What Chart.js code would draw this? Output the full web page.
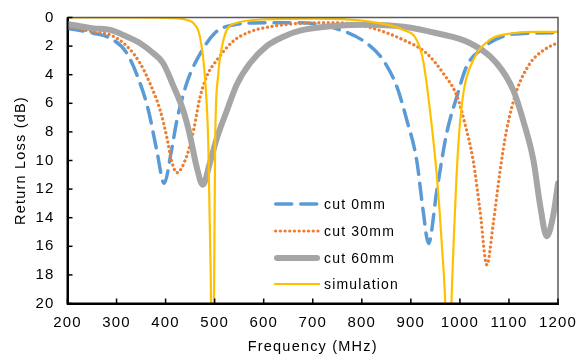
<!DOCTYPE html>
<html><head><meta charset="utf-8">
<script src="https://cdn.jsdelivr.net/npm/chart.js@4.4.1/dist/chart.umd.min.js"></script>
<style>html,body{margin:0;padding:0;background:#fff;overflow:hidden}canvas{display:block}</style>
</head><body>
<canvas id="c" width="579" height="356"></canvas>
<script>
// ---- data ----
const seriesLabels = ['cut 0mm', 'cut 30mm', 'cut 60mm', 'simulation'];

const freqCut0 = [200, 253, 287, 321, 348, 365, 382, 397, 412, 423, 443, 463, 500, 538, 606, 674, 756, 810, 844, 871, 892, 912, 925, 936, 953, 973, 994, 1014, 1041, 1089, 1143, 1200];
const lossCut0 = [0.75, 1.1, 1.45, 2.5, 4.6, 6.5, 9.3, 11.6, 9.3, 7.2, 4.6, 3.0, 1.1, 0.52, 0.36, 0.36, 0.87, 1.8, 3.0, 4.8, 7.2, 10.0, 13.5, 15.8, 12.1, 8.1, 5.5, 3.4, 2.3, 1.3, 1.1, 1.06];

const freqCut30 = [200, 253, 287, 321, 348, 368, 389, 402, 412, 423, 443, 457, 470, 484, 504, 538, 572, 606, 674, 742, 810, 885, 932, 966, 994, 1010, 1027, 1041, 1055, 1068, 1082, 1095, 1116, 1143, 1170, 1200];
const lossCut30 = [0.64, 1.0, 1.22, 2.0, 3.2, 4.6, 6.5, 8.3, 10.0, 10.85, 9.7, 7.9, 5.6, 4.1, 3.0, 1.65, 1.0, 0.69, 0.41, 0.36, 0.64, 1.57, 2.5, 3.9, 5.5, 7.4, 10.0, 13.5, 17.3, 14.4, 10.7, 7.9, 5.1, 3.2, 2.3, 1.75];

const freqCut60 = [200, 253, 287, 321, 348, 375, 395, 416, 436, 450, 463, 476, 490, 504, 525, 545, 572, 606, 640, 674, 742, 810, 885, 953, 1021, 1075, 1109, 1129, 1150, 1163, 1177, 1190, 1200];
const lossCut60 = [0.45, 0.76, 0.87, 1.34, 1.8, 2.5, 3.2, 4.8, 6.5, 8.3, 10.4, 11.7, 10.2, 8.5, 6.5, 4.7, 3.2, 2.0, 1.34, 0.92, 0.6, 0.5, 0.64, 1.1, 1.8, 3.2, 5.1, 7.2, 10.0, 13.0, 15.3, 13.9, 11.6];

const freqSim = [200, 300, 400, 430, 443, 457, 470, 480, 487, 492, 496, 501, 507, 518, 538, 606, 700, 760, 817, 885, 912, 925, 939, 953, 963, 972, 976, 981, 990, 997, 1007, 1027, 1061, 1109, 1157, 1200];
const lossSim = [0, 0, 0.02, 0.08, 0.17, 0.4, 1.34, 4.1, 8.8, 18, 30, 8.8, 4.1, 1.57, 0.45, 0.13, 0.08, 0.12, 0.29, 0.87, 1.57, 3.0, 6.5, 11.1, 15.8, 22, 30, 22, 13.5, 8.8, 5.3, 3.0, 1.57, 1.1, 1.0, 1.0];

const xTicks = [200, 300, 400, 500, 600, 700, 800, 900, 1000, 1100, 1200];
const yTicks = [0, 2, 4, 6, 8, 10, 12, 14, 16, 18, 20];
const xTitle = 'Frequency (MHz)';
const yTitle = 'Return Loss (dB)';

// ---- chart ----
const FONT = "'Liberation Sans', Arial, sans-serif";
const pts = (f, v) => f.map((x, i) => ({x: x, y: v[i]}));

const styles = [
  {borderColor: '#5B9BD5', borderWidth: 3.5, borderDash: [16, 9], borderCapStyle: 'round', order: 4},
  {borderColor: '#ED7D31', borderWidth: 3.2, borderDash: [0.1, 4.6], borderCapStyle: 'round', order: 3},
  {borderColor: '#A5A5A5', borderWidth: 6, borderDash: [], borderCapStyle: 'round', order: 2},
  {borderColor: '#FFC000', borderWidth: 2.2, borderDash: [], borderCapStyle: 'butt', order: 1}
];
const seriesData = [pts(freqCut0, lossCut0), pts(freqCut30, lossCut30), pts(freqCut60, lossCut60), pts(freqSim, lossSim)];

const datasets = seriesLabels.map((lab, i) => Object.assign({
  label: lab, data: seriesData[i], fill: false, pointRadius: 0, pointHoverRadius: 0,
  cubicInterpolationMode: 'monotone', clip: 0
}, styles[i]));

const spacing = {
  id: 'spacing',
  beforeDraw(chart) { chart.ctx.letterSpacing = '1.2px'; }
};

const frame = {
  id: 'frame',
  afterDatasetsDraw(chart) {
    const {ctx, chartArea: a, scales: {x, y}} = chart;
    ctx.save();
    ctx.strokeStyle = '#595959'; ctx.lineWidth = 1.5;
    ctx.beginPath(); ctx.moveTo(a.left, a.top); ctx.lineTo(a.right, a.top); ctx.lineTo(a.right, a.bottom); ctx.stroke();
    ctx.strokeStyle = '#000'; ctx.lineWidth = 2;
    ctx.beginPath(); ctx.moveTo(a.left, a.top); ctx.lineTo(a.left, a.bottom); ctx.lineTo(a.right, a.bottom); ctx.stroke();
    ctx.lineWidth = 1.5;
    xTicks.forEach(v => { const px = x.getPixelForValue(v); ctx.beginPath(); ctx.moveTo(px, a.bottom); ctx.lineTo(px, a.bottom - 5); ctx.stroke(); });
    yTicks.forEach(v => { const py = y.getPixelForValue(v); ctx.beginPath(); ctx.moveTo(a.left, py); ctx.lineTo(a.left + 5, py); ctx.stroke(); });
    ctx.restore();
  }
};

const legendInside = {
  id: 'legendInside',
  afterDraw(chart) {
    const ctx = chart.ctx;
    const x0 = 274, x1 = 320, tx = 324;
    const rows = [204, 231, 258, 284];
    ctx.save();
    ctx.letterSpacing = '1.2px';
    chart.data.datasets.forEach((ds, i) => {
      const yy = rows[i];
      ctx.beginPath();
      ctx.strokeStyle = ds.borderColor; ctx.lineWidth = ds.borderWidth;
      ctx.setLineDash(ds.borderDash); ctx.lineCap = ds.borderCapStyle;
      const pad = ds.borderCapStyle === 'round' ? ds.borderWidth / 2 : 0;
      ctx.moveTo(x0 + pad, yy); ctx.lineTo(x1 - pad, yy); ctx.stroke();
      ctx.setLineDash([]);
      ctx.fillStyle = '#000'; ctx.font = '14px ' + FONT; ctx.textBaseline = 'middle'; ctx.textAlign = 'left';
      ctx.fillText(ds.label, tx, yy + 1);
    });
    ctx.restore();
  }
};

function zeroPad(s) { s.paddingTop = 0; s.paddingBottom = 0; s.paddingLeft = 0; s.paddingRight = 0; }

new Chart(document.getElementById('c'), {
  type: 'line',
  data: {datasets: datasets},
  plugins: [spacing, frame, legendInside],
  options: {
    responsive: false, animation: false,
    layout: {padding: {top: 17.5, right: 21, left: 0, bottom: 0}},
    plugins: {legend: {display: false}, tooltip: {enabled: false}},
    scales: {
      x: {
        type: 'linear', min: 200, max: 1200,
        afterBuildTicks: s => { s.ticks = xTicks.map(v => ({value: v})); },
        afterFit: s => { s.height = 52.5; zeroPad(s); },
        grid: {display: false, drawTicks: false},
        border: {display: true, color: '#000', width: 2},
        ticks: {color: '#000', font: {family: FONT, size: 15}, padding: 10, maxRotation: 0, autoSkip: false,
                callback: v => String(v)},
        title: {display: true, text: xTitle, color: '#000', font: {family: FONT, size: 14.5}, padding: {top: 0, bottom: 0.4}}
      },
      y: {
        type: 'linear', min: 0, max: 20, reverse: true,
        afterBuildTicks: s => { s.ticks = yTicks.map(v => ({value: v})); },
        afterFit: s => { s.width = 67.5; zeroPad(s); },
        grid: {display: false, drawTicks: false},
        border: {display: true, color: '#000', width: 2},
        ticks: {color: '#000', font: {family: FONT, size: 15}, padding: 13, autoSkip: false,
                callback: v => String(v)},
        title: {display: true, text: yTitle, color: '#000', font: {family: FONT, size: 14.5}, padding: {top: 12.3, bottom: 0}}
      }
    }
  }
});
</script>
</body></html>
